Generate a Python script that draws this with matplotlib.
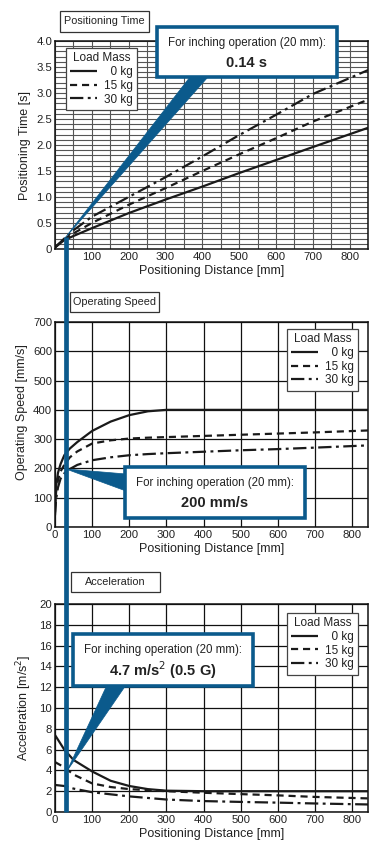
import matplotlib
matplotlib.use("Agg")
import matplotlib.pyplot as plt
from matplotlib.patches import Rectangle, Polygon
from matplotlib.lines import Line2D

# === Data ===
dist_time = [0, 25, 50, 100, 200, 300, 400, 500, 600, 700, 850]
time_0kg = [0.03, 0.17, 0.25, 0.40, 0.69, 0.95, 1.20, 1.46, 1.71, 1.96, 2.33]
time_15kg = [0.03, 0.19, 0.30, 0.50, 0.85, 1.17, 1.50, 1.82, 2.13, 2.45, 2.87]
time_30kg = [0.03, 0.20, 0.36, 0.62, 1.00, 1.38, 1.78, 2.19, 2.58, 2.98, 3.44]

dist_speed = [0, 3, 8, 15, 25, 40, 60, 100, 150, 200, 250, 300, 400, 500, 600, 700, 850]
speed_0kg = [50, 140, 185, 215, 245, 268, 290, 328, 360, 382, 395, 400, 400, 400, 400, 400, 400]
speed_15kg = [70, 120, 160, 190, 212, 238, 258, 285, 296, 302, 305, 307, 311, 315, 319, 323, 330]
speed_30kg = [40, 95, 135, 165, 183, 198, 212, 228, 238, 245, 249, 252, 257, 262, 266, 271, 279]

dist_acc = [0, 25, 50, 100, 150, 200, 250, 300, 400, 500, 600, 700, 850]
acc_0kg = [7.4, 6.0, 5.0, 3.9, 3.0, 2.5, 2.2, 2.05, 2.0, 2.0, 2.0, 2.0, 2.0]
acc_15kg = [4.8, 4.3, 3.6, 2.75, 2.4, 2.2, 2.1, 2.0, 1.85, 1.72, 1.6, 1.45, 1.3]
acc_30kg = [2.6, 2.5, 2.25, 1.9, 1.7, 1.5, 1.35, 1.2, 1.05, 0.97, 0.9, 0.82, 0.72]

mass_labels = ["  0 kg", "15 kg", "30 kg"]

plt.rcParams["font.family"] = ["Liberation Sans", "DejaVu Sans"]

W, H = 370, 843
BLUE = "#0b5a8c"
TXT = "#222222"


def fx(x):
    return x / W


def fy(y):
    return 1 - y / H


def axes_box(left, top, right, bottom):
    return [fx(left), fy(bottom), (right - left) / W, (bottom - top) / H]


styles = [dict(ls="-", lw=1.6),
          dict(ls=(0, (3.2, 2.2)), lw=1.6),
          dict(ls=(0, (6, 2, 1.3, 2)), lw=1.6)]

fig = plt.figure(figsize=(W / 100, H / 100), dpi=100)
fig.patch.set_facecolor("white")


def style_axes(ax, ylabel, ylab_x, ylab_y=0.5):
    for s in ax.spines.values():
        s.set_linewidth(1.1)
        s.set_color("#111111")
    ax.tick_params(length=0, labelsize=8.2, colors=TXT, pad=2)
    ax.set_xlabel("Positioning Distance [mm]", fontsize=9, color=TXT)
    ax.set_ylabel(ylabel, fontsize=9, color=TXT)
    ax.yaxis.set_label_coords(ylab_x, ylab_y)
    ax.xaxis.set_label_coords(0.5, -0.077)


def draw_lines(ax, x, series):
    handles = []
    for y, st in zip(series, styles):
        h, = ax.plot(x, y, color="#1a1a1a", solid_capstyle="butt", **st)
        handles.append(h)
    return handles


def add_legend(ax, handles, anchor, loc):
    leg = ax.legend(handles, mass_labels, title="Load Mass", loc=loc,
                    bbox_to_anchor=anchor, fontsize=8.5, title_fontsize=8.5,
                    frameon=True, fancybox=False, framealpha=1, edgecolor="#444444",
                    handlelength=2.3, handletextpad=0.6, borderpad=0.35,
                    labelspacing=0.15, borderaxespad=0)
    leg.get_frame().set_linewidth(0.9)
    for t in leg.get_texts():
        t.set_color(TXT)
    leg.get_title().set_color(TXT)
    return leg


# --- Positioning time ---
ax1 = fig.add_axes(axes_box(55, 41, 368, 249))
ax1.set_xlim(0, 843)
ax1.set_ylim(0, 4.0)
ax1.set_xticks(range(100, 801, 100))
ax1.set_xticks(range(0, 851, 50), minor=True)
ax1.set_yticks([i * 0.5 for i in range(9)])
ax1.set_yticklabels(["0"] + [f"{i * 0.5:.1f}" for i in range(1, 9)])
ax1.set_yticks([i * 0.1 for i in range(41)], minor=True)
ax1.tick_params(which="minor", length=0)
ax1.grid(True, which="both", color="#555555", lw=0.8)
ax1.set_axisbelow(True)
h1 = draw_lines(ax1, dist_time, [time_0kg, time_15kg, time_30kg])
style_axes(ax1, "Positioning Time [s]", -0.076)
add_legend(ax1, h1, (0.035, 0.966), "upper left")

# --- Operating speed ---
ax2 = fig.add_axes(axes_box(55, 322, 368, 527))
ax2.set_xlim(0, 843)
ax2.set_ylim(0, 700)
ax2.set_xticks(range(0, 801, 100))
ax2.set_yticks(range(0, 701, 100))
ax2.grid(True, color="#111111", lw=0.9)
ax2.set_axisbelow(True)
h2 = draw_lines(ax2, dist_speed, [speed_0kg, speed_15kg, speed_30kg])
style_axes(ax2, "Operating Speed [mm/s]", -0.085, 0.56)
add_legend(ax2, h2, (0.968, 0.966), "upper right")

# --- Acceleration ---
ax3 = fig.add_axes(axes_box(55, 604, 368, 812))
ax3.set_xlim(0, 843)
ax3.set_ylim(0, 20)
ax3.set_xticks(range(0, 801, 100))
ax3.set_yticks(range(0, 21, 2))
ax3.grid(True, color="#111111", lw=0.9)
ax3.set_axisbelow(True)
h3 = draw_lines(ax3, dist_acc, [acc_0kg, acc_15kg, acc_30kg])
style_axes(ax3, "Acceleration [m/s$^2$]", -0.066)
add_legend(ax3, h3, (0.968, 0.957), "upper right")

# === Title boxes ===
for (l, t, r, b, label) in [(60, 11, 149, 32, "Positioning Time"),
                            (70, 292, 159, 312, "Operating Speed"),
                            (71, 572, 160, 592, "Acceleration")]:
    fig.add_artist(Rectangle((fx(l), fy(b)), (r - l) / W, (b - t) / H,
                             transform=fig.transFigure, facecolor="white",
                             edgecolor="#333333", lw=0.9, zorder=3))
    fig.text(fx((l + r) / 2), fy((t + b) / 2), label, ha="center", va="center",
             fontsize=7.8, color=TXT, zorder=4)

# === Inching-operation callouts ===
fig.add_artist(Line2D([fx(66), fx(66)], [fy(237), fy(812)], transform=fig.transFigure,
                      color=BLUE, lw=3.4, solid_capstyle="butt", zorder=5))

wedges = [[(190, 77), (208, 77), (65, 238)],
          [(126, 474), (126, 491), (66, 469)],
          [(107, 685), (126, 685), (67, 771)]]
for pts in wedges:
    fig.add_artist(Polygon([(fx(x), fy(y)) for x, y in pts], closed=True,
                           transform=fig.transFigure, facecolor=BLUE,
                           edgecolor=BLUE, lw=0.5, zorder=6))

callouts = [(157, 27, 337, 77, "0.14 s"),
            (125, 467, 305, 518, "200 mm/s"),
            (73, 634, 253, 686, "4.7 m/s$^2$ (0.5 G)")]
for (l, t, r, b, value) in callouts:
    fig.add_artist(Rectangle((fx(l), fy(b)), (r - l) / W, (b - t) / H,
                             transform=fig.transFigure, facecolor="white",
                             edgecolor=BLUE, lw=2.6, zorder=7))
    cx = fx((l + r) / 2)
    fig.text(cx, fy(t + 16), "For inching operation (20 mm):", ha="center", va="center",
             fontsize=8.3, color=TXT, zorder=8)
    fig.text(cx, fy(t + 36), value, ha="center", va="center", fontsize=10.5,
             fontweight="bold", color=TXT, zorder=8)

fig.savefig("out.png", dpi=100)
